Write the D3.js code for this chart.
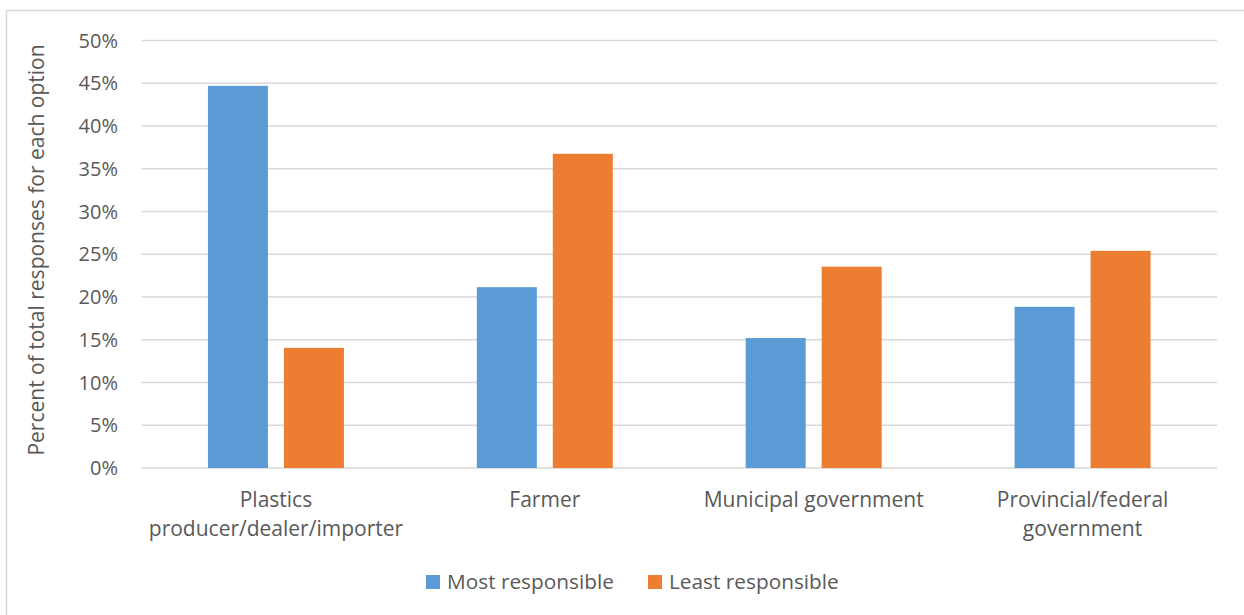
<!DOCTYPE html>
<html>
<head>
<meta charset="utf-8">
<script src="https://cdn.jsdelivr.net/npm/d3@7"></script>
<style>
  body { margin: 0; background: #fff; }
  svg text { font-family: "Open Sans", sans-serif; fill: #595959; }
</style>
</head>
<body>
<svg id="chart" width="1244" height="615"></svg>
<script>
var categories = [
  ["Plastics", "producer/dealer/importer"],
  ["Farmer"],
  ["Municipal government"],
  ["Provincial/federal", "government"]
];
var seriesNames = ["Most responsible", "Least responsible"];
var mostValues = [0.447, 0.2115, 0.152, 0.1885];
var leastValues = [0.1405, 0.3675, 0.2355, 0.254];
var yTicks = [0, 0.05, 0.1, 0.15, 0.2, 0.25, 0.3, 0.35, 0.4, 0.45, 0.5];
var colors = ["#5b9bd5", "#ed7d31"];

var svg = d3.select("#chart");

// outer chart border (cut off on right/bottom like the source)
svg.append("rect")
  .attr("x", 6.5).attr("y", 10.5)
  .attr("width", 1260).attr("height", 640)
  .attr("fill", "none")
  .attr("stroke", "#d9d9d9")
  .attr("stroke-width", 1.5);

var plotLeft = 141.5, plotRight = 1217, plotTop = 40.5, plotBottom = 468;

var x0 = d3.scaleBand()
  .domain(d3.range(categories.length))
  .range([plotLeft, plotRight]);

var bw = x0.bandwidth();
var groupW = 136;
var x1 = d3.scaleBand()
  .domain(seriesNames)
  .range([(bw - groupW) / 2, (bw + groupW) / 2])
  .paddingInner(16 / 76);

var y = d3.scaleLinear().domain([0, 0.5]).range([plotBottom, plotTop]);

// gridlines
svg.append("g")
  .attr("class", "y-grid")
  .selectAll("line")
  .data(yTicks)
  .enter()
  .append("line")
  .attr("x1", plotLeft).attr("x2", plotRight)
  .attr("y1", function(d) { return y(d); })
  .attr("y2", function(d) { return y(d); })
  .attr("stroke", "#d9d9d9")
  .attr("stroke-width", 1.5);

// y tick labels
svg.append("g")
  .selectAll("text")
  .data(yTicks)
  .enter()
  .append("text")
  .attr("x", 118)
  .attr("y", function(d) { return y(d); })
  .attr("dy", "0.35em")
  .attr("text-anchor", "end")
  .style("font-size", "20px")
  .text(d3.format(".0%"));

// y axis title
svg.append("text")
  .attr("transform", "translate(44,250) rotate(-90)")
  .attr("text-anchor", "middle")
  .style("font-size", "21px")
  .text("Percent of total responses for each option");

// bars
var data = categories.map(function(c, i) {
  return [
    { key: seriesNames[0], value: mostValues[i] },
    { key: seriesNames[1], value: leastValues[i] }
  ];
});

var groups = svg.append("g")
  .selectAll("g.cat")
  .data(data)
  .enter()
  .append("g")
  .attr("class", "cat")
  .attr("transform", function(d, i) { return "translate(" + x0(i) + ",0)"; });

groups.selectAll("rect")
  .data(function(d) { return d; })
  .enter()
  .append("rect")
  .attr("x", function(d) { return x1(d.key); })
  .attr("y", function(d) { return y(d.value); })
  .attr("width", x1.bandwidth())
  .attr("height", function(d) { return plotBottom - y(d.value); })
  .attr("fill", function(d, i) { return colors[i]; });

// category labels
var labels = svg.append("g")
  .selectAll("text")
  .data(categories)
  .enter()
  .append("text")
  .attr("x", function(d, i) { return x0(i) + bw / 2; })
  .attr("y", 507)
  .attr("text-anchor", "middle")
  .style("font-size", "21px");

labels.selectAll("tspan")
  .data(function(d) { return d; })
  .enter()
  .append("tspan")
  .attr("x", function() { return d3.select(this.parentNode).attr("x"); })
  .attr("dy", function(d, i) { return i == 0 ? 0 : 29; })
  .text(function(d) { return d; });

// legend
var legendX = [426, 648];
var legend = svg.append("g")
  .selectAll("g.leg")
  .data(seriesNames)
  .enter()
  .append("g")
  .attr("class", "leg")
  .attr("transform", function(d, i) { return "translate(" + legendX[i] + ",575)"; });

legend.append("rect")
  .attr("width", 14).attr("height", 14)
  .attr("fill", function(d, i) { return colors[i]; });

legend.append("text")
  .attr("x", 21)
  .attr("y", 14)
  .style("font-size", "20.8px")
  .text(function(d) { return d; });
</script>
</body>
</html>
